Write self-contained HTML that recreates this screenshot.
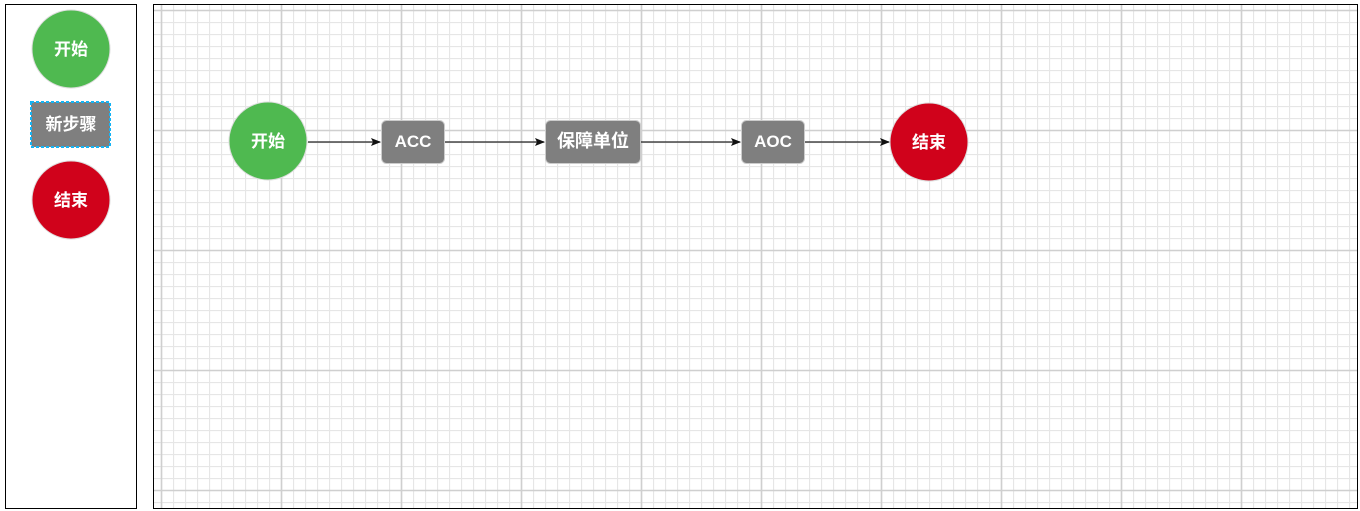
<!DOCTYPE html>
<html><head><meta charset="utf-8"><style>
html,body{margin:0;padding:0;background:#fff;width:1360px;height:511px;overflow:hidden}
text{font-family:"Liberation Sans","Noto Sans CJK SC",sans-serif;font-weight:bold;fill:#fff;font-size:17px}
</style></head><body>
<svg width="1360" height="511" xmlns="http://www.w3.org/2000/svg">
<defs>
<pattern id="minor" x="161" y="10" width="12" height="12" patternUnits="userSpaceOnUse">
<path d="M0.5 0V12M0 0.5H12" stroke="#e6e6e6" stroke-width="1.3" fill="none"/>
</pattern>
<pattern id="major" x="160.5" y="9.5" width="120" height="120" patternUnits="userSpaceOnUse">
<path d="M1 0V120M0 1H120" stroke="#cfcfcf" stroke-width="1.6" fill="none"/>
</pattern>
<marker id="ar" markerWidth="10" markerHeight="8" refX="9" refY="4" orient="auto" markerUnits="userSpaceOnUse">
<path d="M0 0L10 4L0 8L2 4Z" fill="#111"/>
</marker>
</defs>
<!-- left panel -->
<rect x="5.5" y="4.5" width="131" height="504" fill="#fff" stroke="#000"/>
<circle cx="71" cy="49" r="39" fill="#4fb950" stroke="#ddd"/>
<text x="71" y="55" text-anchor="middle">开始</text>
<rect x="31" y="102" width="79" height="45" rx="3" fill="#7f7f7f"/>
<rect x="31" y="102" width="79" height="45" fill="none" stroke="#14b4f5" stroke-width="2" stroke-dasharray="3,2"/>
<text x="71" y="130" text-anchor="middle">新步骤</text>
<circle cx="71" cy="200" r="39" fill="#d0021b" stroke="#ddd"/>
<text x="71" y="206" text-anchor="middle">结束</text>
<!-- canvas -->
<rect x="154" y="5" width="1203" height="503" fill="url(#minor)"/>
<rect x="154" y="5" width="1203" height="503" fill="url(#major)"/>
<rect x="153.5" y="4.5" width="1204" height="504" fill="none" stroke="#000"/>
<!-- connectors -->
<g stroke="#222" stroke-width="1.3" fill="none" marker-end="url(#ar)">
<line x1="308" y1="142" x2="380" y2="142"/>
<line x1="445" y1="142" x2="544" y2="142"/>
<line x1="641" y1="142" x2="740" y2="142"/>
<line x1="805" y1="142" x2="889" y2="142"/>
</g>
<!-- nodes -->
<circle cx="268" cy="141" r="39" fill="#4fb950" stroke="#ddd"/>
<text x="268" y="147" text-anchor="middle">开始</text>
<rect x="381.5" y="120.5" width="63" height="43" rx="5" fill="#7f7f7f" stroke="#ccc"/>
<text x="413" y="147" text-anchor="middle">ACC</text>
<rect x="545.5" y="120.5" width="95" height="43" rx="5" fill="#7f7f7f" stroke="#ccc"/>
<text x="593" y="147" text-anchor="middle" style="font-size:18px">保障单位</text>
<rect x="741.5" y="120.5" width="63" height="43" rx="5" fill="#7f7f7f" stroke="#ccc"/>
<text x="773" y="147" text-anchor="middle">AOC</text>
<circle cx="929" cy="142" r="39" fill="#d0021b" stroke="#ddd"/>
<text x="929" y="148" text-anchor="middle">结束</text>
</svg>
</body></html>
